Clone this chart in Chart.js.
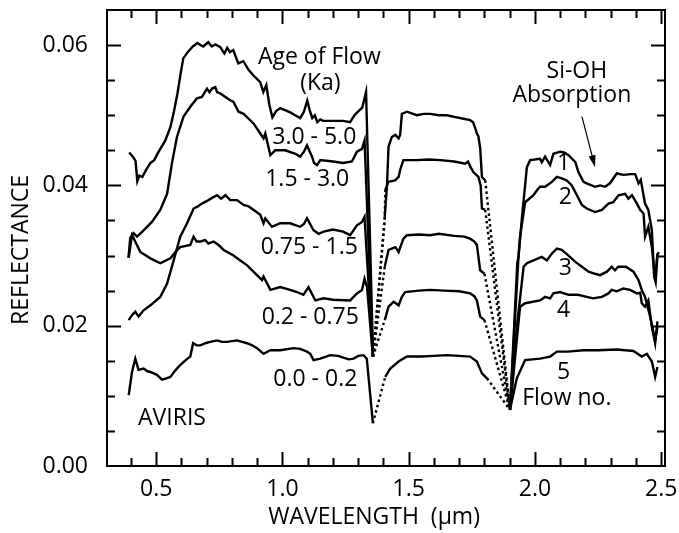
<!DOCTYPE html>
<html>
<head>
<meta charset="utf-8">
<script src="https://cdn.jsdelivr.net/npm/chart.js@4"></script>
<style>
  html, body { margin: 0; padding: 0; background: #fff; }
</style>
</head>
<body>
<canvas id="spectraChart" width="679" height="533"></canvas>
<script>
// AVIRIS reflectance spectra of five lava flows
// each point is [wavelength (um), reflectance]
const flow1 = [[0.393,0.0447],[0.409,0.0440],[0.418,0.0435],[0.425,0.0406],[0.433,0.0414],[0.445,0.0412],[0.460,0.0422],[0.477,0.0432],[0.492,0.0436],[0.508,0.0447],[0.536,0.0464],[0.556,0.0483],[0.570,0.0505],[0.584,0.0531],[0.597,0.0560],[0.607,0.0581],[0.627,0.0591],[0.645,0.0598],[0.663,0.0603],[0.675,0.0600],[0.686,0.0598],[0.706,0.0604],[0.720,0.0598],[0.734,0.0601],[0.754,0.0597],[0.766,0.0590],[0.770,0.0588],[0.781,0.0596],[0.792,0.0590],[0.805,0.0593],[0.825,0.0574],[0.845,0.0577],[0.865,0.0565],[0.884,0.0557],[0.912,0.0547],[0.924,0.0533],[0.936,0.0543],[0.948,0.0515],[0.960,0.0497],[0.975,0.0506],[0.991,0.0510],[1.031,0.0504],[1.050,0.0500],[1.070,0.0496],[1.085,0.0505],[1.098,0.0521],[1.108,0.0507],[1.118,0.0496],[1.128,0.0500],[1.138,0.0490],[1.150,0.0494],[1.161,0.0492],[1.201,0.0492],[1.240,0.0492],[1.268,0.0490],[1.285,0.0500],[1.296,0.0504],[1.316,0.0511],[1.331,0.0533],[1.359,0.0156],[1.405,0.0355],[1.414,0.0400],[1.420,0.0455],[1.433,0.0469],[1.447,0.0472],[1.460,0.0467],[1.466,0.0472],[1.473,0.0502],[1.493,0.0505],[1.532,0.0500],[1.560,0.0502],[1.585,0.0502],[1.620,0.0500],[1.651,0.0500],[1.690,0.0497],[1.717,0.0495],[1.743,0.0493],[1.755,0.0490],[1.765,0.0480],[1.770,0.0474],[1.776,0.0470],[1.783,0.0453],[1.790,0.0412],[1.803,0.0407],[1.901,0.0080],[1.935,0.0300],[1.950,0.0360],[1.968,0.0426],[1.981,0.0436],[2.020,0.0438],[2.027,0.0433],[2.040,0.0441],[2.060,0.0429],[2.073,0.0445],[2.100,0.0448],[2.115,0.0447],[2.133,0.0443],[2.160,0.0433],[2.172,0.0419],[2.192,0.0405],[2.205,0.0403],[2.238,0.0398],[2.258,0.0400],[2.278,0.0398],[2.297,0.0403],[2.324,0.0417],[2.350,0.0415],[2.380,0.0416],[2.397,0.0416],[2.410,0.0403],[2.419,0.0408],[2.436,0.0374],[2.449,0.0365],[2.463,0.0336],[2.472,0.0270],[2.478,0.0262],[2.485,0.0300],[2.490,0.0305]];
const flow2 = [[0.390,0.0297],[0.397,0.0325],[0.410,0.0332],[0.424,0.0327],[0.450,0.0336],[0.483,0.0348],[0.516,0.0365],[0.543,0.0388],[0.562,0.0431],[0.582,0.0469],[0.608,0.0498],[0.635,0.0512],[0.661,0.0524],[0.681,0.0526],[0.701,0.0538],[0.711,0.0533],[0.721,0.0538],[0.734,0.0540],[0.741,0.0533],[0.754,0.0531],[0.774,0.0526],[0.790,0.0522],[0.806,0.0519],[0.826,0.0505],[0.846,0.0502],[0.866,0.0495],[0.886,0.0488],[0.912,0.0474],[0.925,0.0467],[0.932,0.0474],[0.952,0.0443],[0.971,0.0450],[1.011,0.0450],[1.051,0.0445],[1.070,0.0441],[1.085,0.0448],[1.097,0.0457],[1.117,0.0441],[1.125,0.0432],[1.137,0.0429],[1.150,0.0436],[1.200,0.0434],[1.240,0.0432],[1.275,0.0434],[1.295,0.0448],[1.315,0.0452],[1.325,0.0464],[1.358,0.0156],[1.405,0.0350],[1.407,0.0393],[1.419,0.0405],[1.446,0.0407],[1.460,0.0412],[1.466,0.0422],[1.479,0.0436],[1.532,0.0436],[1.580,0.0437],[1.625,0.0436],[1.680,0.0434],[1.724,0.0431],[1.735,0.0434],[1.745,0.0426],[1.756,0.0419],[1.776,0.0412],[1.785,0.0400],[1.790,0.0367],[1.803,0.0365],[1.901,0.0080],[1.930,0.0290],[1.935,0.0298],[1.941,0.0327],[1.961,0.0376],[1.994,0.0386],[2.008,0.0393],[2.020,0.0398],[2.040,0.0398],[2.067,0.0405],[2.087,0.0412],[2.106,0.0410],[2.126,0.0407],[2.146,0.0400],[2.166,0.0386],[2.186,0.0372],[2.205,0.0367],[2.238,0.0362],[2.265,0.0365],[2.291,0.0374],[2.310,0.0376],[2.331,0.0386],[2.357,0.0388],[2.370,0.0381],[2.384,0.0386],[2.404,0.0374],[2.417,0.0365],[2.430,0.0360],[2.436,0.0327],[2.449,0.0341],[2.463,0.0312],[2.476,0.0265],[2.485,0.0303]];
const flow3 = [[0.391,0.0208],[0.404,0.0215],[0.417,0.0220],[0.430,0.0213],[0.450,0.0222],[0.477,0.0229],[0.516,0.0241],[0.543,0.0260],[0.569,0.0293],[0.595,0.0327],[0.622,0.0346],[0.648,0.0367],[0.665,0.0370],[0.681,0.0374],[0.707,0.0379],[0.725,0.0383],[0.741,0.0386],[0.757,0.0381],[0.774,0.0386],[0.793,0.0379],[0.820,0.0379],[0.846,0.0372],[0.866,0.0370],[0.886,0.0365],[0.912,0.0358],[0.925,0.0346],[0.932,0.0353],[0.958,0.0341],[0.991,0.0346],[1.030,0.0346],[1.070,0.0341],[1.085,0.0345],[1.097,0.0353],[1.123,0.0336],[1.143,0.0331],[1.163,0.0334],[1.200,0.0337],[1.240,0.0334],[1.268,0.0329],[1.295,0.0343],[1.315,0.0348],[1.325,0.0355],[1.358,0.0156],[1.405,0.0284],[1.420,0.0308],[1.447,0.0312],[1.460,0.0305],[1.479,0.0324],[1.493,0.0329],[1.540,0.0330],[1.585,0.0329],[1.620,0.0331],[1.680,0.0328],[1.720,0.0327],[1.743,0.0324],[1.760,0.0320],[1.770,0.0315],[1.783,0.0279],[1.800,0.0274],[1.901,0.0080],[1.928,0.0198],[1.955,0.0284],[1.968,0.0289],[1.994,0.0293],[2.027,0.0298],[2.047,0.0293],[2.067,0.0303],[2.087,0.0310],[2.106,0.0308],[2.133,0.0300],[2.160,0.0291],[2.186,0.0284],[2.212,0.0277],[2.238,0.0274],[2.258,0.0272],[2.285,0.0277],[2.304,0.0284],[2.317,0.0279],[2.330,0.0284],[2.360,0.0284],[2.390,0.0277],[2.410,0.0265],[2.423,0.0251],[2.436,0.0241],[2.456,0.0213],[2.476,0.0179],[2.485,0.0198]];
const flow4 = [[0.391,0.0297],[0.404,0.0329],[0.410,0.0325],[0.437,0.0305],[0.477,0.0296],[0.516,0.0289],[0.556,0.0296],[0.576,0.0305],[0.595,0.0312],[0.635,0.0315],[0.648,0.0327],[0.660,0.0320],[0.675,0.0320],[0.694,0.0322],[0.707,0.0317],[0.727,0.0320],[0.747,0.0315],[0.767,0.0308],[0.806,0.0300],[0.833,0.0293],[0.860,0.0286],[0.899,0.0272],[0.919,0.0265],[0.925,0.0270],[0.952,0.0251],[0.991,0.0255],[1.030,0.0251],[1.057,0.0248],[1.083,0.0244],[1.103,0.0255],[1.130,0.0236],[1.163,0.0239],[1.200,0.0237],[1.268,0.0236],[1.295,0.0246],[1.315,0.0251],[1.325,0.0267],[1.335,0.0255],[1.358,0.0156],[1.405,0.0208],[1.420,0.0227],[1.440,0.0234],[1.460,0.0229],[1.473,0.0241],[1.486,0.0248],[1.540,0.0250],[1.585,0.0251],[1.640,0.0250],[1.700,0.0249],[1.743,0.0246],[1.760,0.0242],[1.770,0.0236],[1.783,0.0213],[1.800,0.0208],[1.901,0.0080],[1.941,0.0227],[1.961,0.0232],[2.020,0.0236],[2.040,0.0241],[2.060,0.0239],[2.073,0.0246],[2.100,0.0248],[2.133,0.0244],[2.170,0.0244],[2.205,0.0241],[2.230,0.0239],[2.265,0.0241],[2.291,0.0246],[2.304,0.0251],[2.324,0.0249],[2.350,0.0253],[2.377,0.0251],[2.404,0.0246],[2.417,0.0247],[2.423,0.0232],[2.436,0.0227],[2.449,0.0236],[2.463,0.0198],[2.476,0.0175],[2.485,0.0206]];
const flow5 = [[0.391,0.0101],[0.404,0.0134],[0.417,0.0153],[0.430,0.0137],[0.450,0.0139],[0.465,0.0135],[0.477,0.0134],[0.490,0.0132],[0.503,0.0130],[0.523,0.0123],[0.540,0.0125],[0.556,0.0127],[0.575,0.0136],[0.595,0.0144],[0.620,0.0152],[0.635,0.0156],[0.646,0.0175],[0.660,0.0172],[0.675,0.0172],[0.694,0.0175],[0.714,0.0177],[0.741,0.0179],[0.760,0.0177],[0.780,0.0177],[0.800,0.0178],[0.820,0.0179],[0.840,0.0177],[0.860,0.0175],[0.880,0.0172],[0.899,0.0168],[0.925,0.0160],[0.952,0.0165],[0.991,0.0165],[1.044,0.0168],[1.070,0.0167],[1.097,0.0163],[1.110,0.0160],[1.123,0.0151],[1.150,0.0153],[1.189,0.0158],[1.220,0.0157],[1.262,0.0152],[1.281,0.0153],[1.300,0.0157],[1.321,0.0158],[1.334,0.0153],[1.358,0.0061],[1.400,0.0118],[1.407,0.0127],[1.427,0.0139],[1.460,0.0149],[1.493,0.0156],[1.550,0.0156],[1.600,0.0157],[1.651,0.0158],[1.700,0.0157],[1.743,0.0156],[1.770,0.0149],[1.790,0.0132],[1.810,0.0125],[1.901,0.0080],[1.928,0.0125],[1.961,0.0151],[2.020,0.0153],[2.060,0.0156],[2.087,0.0163],[2.130,0.0163],[2.192,0.0165],[2.250,0.0165],[2.324,0.0166],[2.390,0.0164],[2.423,0.0156],[2.443,0.0160],[2.463,0.0149],[2.476,0.0127],[2.485,0.0141]];

const flows = [flow1, flow2, flow3, flow4, flow5];
const flowNumbers = ['1', '2', '3', '4', '5'];
const flowAges = ['3.0 - 5.0', '1.5 - 3.0', '0.75 - 1.5', '0.2 - 0.75', '0.0 - 0.2'];

// water absorption bands: segments inside these are drawn dotted
const waterBands = [[1.355, 1.41], [1.795, 1.905]];

const xTickLabels = [0.5, 1.0, 1.5, 2.0, 2.5];
const yTickLabels = [0.00, 0.02, 0.04, 0.06];

const FONT = "'Open Sans', 'DejaVu Sans', sans-serif";
const FONT_SIZE = 23;

// text placed on the plot, in data coordinates
const notes = [
    { text: 'Age of Flow', x: 1.146, y: 0.0583 },
    { text: '(Ka)', x: 1.150, y: 0.0545 },
    { text: flowAges[0], x: 1.126, y: 0.0469 },
    { text: flowAges[1], x: 1.098, y: 0.0408 },
    { text: flowAges[2], x: 1.106, y: 0.0311 },
    { text: flowAges[3], x: 1.110, y: 0.0212 },
    { text: flowAges[4], x: 1.130, y: 0.0123 },
    { text: 'AVIRIS', x: 0.5625, y: 0.0068 },
    { text: 'Si-OH', x: 2.166, y: 0.0562 },
    { text: 'Absorption', x: 2.146, y: 0.0528 },
    { text: flowNumbers[0], x: 2.113, y: 0.0431 },
    { text: flowNumbers[1], x: 2.120, y: 0.0383 },
    { text: flowNumbers[2], x: 2.120, y: 0.0282 },
    { text: flowNumbers[3], x: 2.113, y: 0.0222 },
    { text: flowNumbers[4], x: 2.113, y: 0.0134 },
    { text: 'Flow no.', x: 2.126, y: 0.0096 },
];
const arrow = { from: [2.186, 0.0498], to: [2.238, 0.0426] };

function inWaterBand(ctx) {
    const a = ctx.p0.parsed.x, b = ctx.p1.parsed.x;
    return waterBands.some(([lo, hi]) => a >= lo && b <= hi);
}

// keep the plot box fixed: no extra room for overhanging tick labels
function noPadding(s) {
    s.paddingTop = 0; s.paddingBottom = 0; s.paddingLeft = 0; s.paddingRight = 0;
}

// frame, inward ticks on all four sides, notes and the arrow
const framePlugin = {
    id: 'frame',
    afterDatasetsDraw(chart) {
        const { ctx, chartArea: ca, scales: { x, y } } = chart;
        ctx.save();
        ctx.strokeStyle = '#000';
        ctx.lineWidth = 2;
        ctx.strokeRect(ca.left, ca.top, ca.right - ca.left, ca.bottom - ca.top);

        ctx.beginPath();
        for (let i = 4; i <= 25; i++) {
            const v = i / 10;
            const px = Math.round(x.getPixelForValue(v)) + 0.5;
            const len = i % 5 === 0 ? 14 : 8;
            ctx.moveTo(px, ca.bottom); ctx.lineTo(px, ca.bottom - len);
            ctx.moveTo(px, ca.top); ctx.lineTo(px, ca.top + len);
        }
        for (let i = 1; i <= 12; i++) {
            const v = i * 0.005;
            const py = Math.round(y.getPixelForValue(v)) + 0.5;
            const len = i % 4 === 0 ? 14 : 8;
            ctx.moveTo(ca.left, py); ctx.lineTo(ca.left + len, py);
            ctx.moveTo(ca.right, py); ctx.lineTo(ca.right - len, py);
        }
        ctx.stroke();

        ctx.fillStyle = '#000';
        ctx.font = `${FONT_SIZE}px ${FONT}`;
        ctx.textAlign = 'center';
        ctx.textBaseline = 'middle';
        notes.forEach(n => {
            ctx.fillText(n.text, x.getPixelForValue(n.x), y.getPixelForValue(n.y));
        });

        const x0 = x.getPixelForValue(arrow.from[0]), y0 = y.getPixelForValue(arrow.from[1]);
        const x1 = x.getPixelForValue(arrow.to[0]), y1 = y.getPixelForValue(arrow.to[1]);
        const ang = Math.atan2(y1 - y0, x1 - x0);
        ctx.lineWidth = 1.2;
        ctx.beginPath();
        ctx.moveTo(x0, y0);
        ctx.lineTo(x1 - 8 * Math.cos(ang), y1 - 8 * Math.sin(ang));
        ctx.stroke();
        ctx.beginPath();
        ctx.moveTo(x1, y1);
        ctx.lineTo(x1 - 12 * Math.cos(ang) + 3.5 * Math.sin(ang), y1 - 12 * Math.sin(ang) - 3.5 * Math.cos(ang));
        ctx.lineTo(x1 - 12 * Math.cos(ang) - 3.5 * Math.sin(ang), y1 - 12 * Math.sin(ang) + 3.5 * Math.cos(ang));
        ctx.closePath();
        ctx.fill();
        ctx.restore();
    }
};

const ctx = document.getElementById('spectraChart').getContext('2d');
new Chart(ctx, {
    type: 'line',
    data: {
        datasets: flows.map((pts, i) => ({
            label: 'Flow ' + flowNumbers[i] + ' (' + flowAges[i] + ' Ka)',
            data: pts.map(([wl, r]) => ({ x: wl, y: r })),
            borderColor: '#000',
            borderWidth: 2.4,
            pointRadius: 0,
            tension: 0,
            fill: false,
            segment: {
                borderDash: c => inWaterBand(c) ? [2.5, 3] : undefined,
            },
        })),
    },
    options: {
        responsive: false,
        animation: false,
        layout: { padding: { top: 10, right: 14, left: 0, bottom: 0 } },
        plugins: {
            legend: { display: false },
            tooltip: { enabled: false },
        },
        scales: {
            x: {
                type: 'linear',
                min: 0.305,
                max: 2.515,
                grid: { display: false, drawTicks: false },
                border: { display: false },
                afterBuildTicks: s => { s.ticks = xTickLabels.map(v => ({ value: v })); },
                afterFit: s => { s.height = 67; noPadding(s); },
                ticks: {
                    autoSkip: false,
                    maxRotation: 0,
                    padding: 10,
                    color: '#000',
                    font: { family: FONT, size: FONT_SIZE },
                    callback: v => v.toFixed(1),
                },
                title: {
                    display: true,
                    // trailing spaces nudge the centred title a little to the left, as in the figure
                    text: 'WAVELENGTH  (μm)    ',
                    color: '#000',
                    font: { family: FONT, size: FONT_SIZE },
                    padding: { top: 0, bottom: 2 },
                },
            },
            y: {
                min: 0,
                max: 0.065,
                grid: { display: false, drawTicks: false },
                border: { display: false },
                afterBuildTicks: s => { s.ticks = yTickLabels.map(v => ({ value: v })); },
                afterFit: s => { s.width = 107; noPadding(s); },
                ticks: {
                    autoSkip: false,
                    padding: 19,
                    color: '#000',
                    font: { family: FONT, size: FONT_SIZE },
                    callback: v => v.toFixed(2),
                },
                title: {
                    display: true,
                    text: 'REFLECTANCE    ',
                    color: '#000',
                    font: { family: FONT, size: FONT_SIZE },
                    padding: { top: 8, bottom: 0 },
                },
            },
        },
    },
    plugins: [framePlugin],
});
</script>
</body>
</html>
